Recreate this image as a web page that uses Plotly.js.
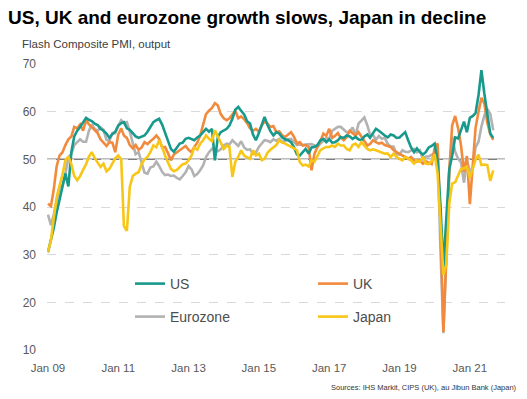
<!DOCTYPE html>
<html>
<head>
<meta charset="utf-8">
<script src="https://cdn.plot.ly/plotly-3.0.1.min.js"></script>
<style>html,body{margin:0;padding:0;background:#fff;}#chart{width:527px;height:399px;}</style>
</head>
<body>
<div id="chart"></div>
<script>
// Monthly flash composite PMI output, Jan 2009 - Sep 2021
var startYear = 2009;
var seriesNames = ["US", "UK", "Eurozone", "Japan"];
var yTickVals = [10, 20, 30, 40, 50, 60, 70];
var xTickLabels = ["Jan 09", "Jan 11", "Jan 13", "Jan 15", "Jan 17", "Jan 19", "Jan 21"];

var us = [
  30.5, 33.0, 35.5, 38.8, 41.5, 44.5, 47.0, 44.3, 51.5, 54.8, 56.0, 56.8,
  57.8, 58.7, 58.3, 58.0, 57.5, 57.2, 56.4, 56.0, 55.4, 54.5, 55.3, 55.8,
  57.1, 57.6, 57.8, 56.5, 56.2, 55.4, 54.8, 54.5, 54.7, 55.0, 55.8, 56.8,
  57.8, 58.2, 58.5, 57.3, 55.7, 54.0, 52.2, 51.6, 52.6, 53.3, 53.5, 54.3,
  54.5, 54.2, 54.0, 54.6, 55.0, 55.7, 56.4, 55.8, 56.4, 49.8, 54.7, 55.7,
  56.1, 56.4, 57.1, 58.5, 60.4, 61.0, 60.2, 59.4, 58.0, 57.5, 55.2, 54.0,
  55.5, 57.3, 58.9, 57.2, 55.9, 55.0, 55.7, 55.4, 54.6, 54.2, 54.0, 53.6,
  52.5, 51.0, 50.8, 51.5, 52.2, 51.2, 52.5, 52.6, 53.0, 54.0, 54.3, 53.6,
  54.2, 53.5, 53.6, 54.0, 54.7, 54.5, 55.0, 54.8, 54.3, 54.7, 54.2, 54.0,
  54.8, 55.2, 54.5, 55.5, 56.4, 56.0, 55.4, 55.0, 54.6, 55.2, 55.0, 54.5,
  54.6, 55.3, 55.7, 54.0, 52.5, 51.5, 52.3, 51.5, 51.0, 51.5, 52.5, 52.8,
  53.3, 49.6, 40.5, 27.4, 37.0, 47.9, 50.7, 54.6, 54.4, 56.3, 57.9, 55.7,
  58.7, 59.1, 59.7, 63.5, 68.7, 63.7, 59.7, 55.4, 54.5
];
var uk = [
  40.7, 40.2, 43.5, 48.5, 50.8, 51.5, 53.0, 54.2, 54.8, 56.8, 56.5, 57.3,
  56.0, 58.2, 57.4, 56.8, 56.0, 55.5, 54.2, 53.4, 52.8, 53.6, 53.5, 51.5,
  55.2, 56.5, 55.0, 54.5, 53.0, 52.3, 53.0, 52.0, 52.5, 53.6, 53.2, 53.8,
  54.3, 55.0, 54.3, 52.5, 52.6, 51.3, 49.8, 51.0, 51.5, 51.8, 52.3, 52.8,
  52.0, 51.5, 52.6, 53.5, 55.0, 57.2, 59.5, 60.2, 60.8, 61.8, 61.3, 59.5,
  58.6, 58.2, 58.6, 59.4, 60.2, 58.6, 59.0, 58.4, 57.6, 56.5, 56.0, 56.4,
  55.8, 57.1, 58.0, 57.5, 56.8, 57.0, 55.7, 55.9, 55.0, 54.7, 55.2, 55.7,
  54.7, 53.3, 53.6, 52.9, 53.0, 52.6, 47.7, 51.2, 52.6, 53.8, 55.4, 54.9,
  56.4, 54.5, 54.9, 55.5, 54.5, 54.0, 54.7, 56.0, 55.5, 55.0, 55.7, 54.8,
  54.0, 52.9, 53.2, 54.0, 53.6, 53.3, 53.5, 53.0, 52.8, 52.6, 51.9, 51.5,
  51.2, 50.8, 50.5, 50.1, 50.5, 49.8, 49.5, 49.8, 49.1, 49.6, 49.3, 49.0,
  52.4, 53.3, 37.1, 13.8, 28.9, 47.6, 57.1, 59.1, 56.5, 52.9, 47.4, 50.7,
  40.6, 49.8, 56.6, 60.0, 62.9, 61.7, 57.7, 55.3, 54.1
];
var eurozone = [
  38.4, 36.2, 38.3, 41.1, 44.0, 44.6, 47.0, 50.4, 51.1, 53.0, 53.7, 54.2,
  53.7, 53.7, 55.9, 57.3, 56.4, 56.0, 56.7, 56.2, 54.1, 53.8, 55.5, 55.5,
  57.0, 58.2, 57.6, 57.8, 55.8, 53.3, 51.1, 51.5, 49.1, 47.2, 47.0, 48.3,
  48.5, 49.5, 48.6, 47.4, 46.7, 46.8, 46.5, 46.6, 46.1, 45.8, 46.5, 47.3,
  48.6, 47.9, 46.5, 46.9, 47.7, 48.7, 50.5, 51.5, 52.2, 51.9, 51.7, 52.1,
  52.9, 53.3, 53.1, 54.0, 53.5, 52.8, 53.8, 52.5, 52.0, 52.1, 51.1, 51.4,
  52.6, 53.3, 54.0, 53.9, 53.6, 54.2, 53.9, 54.3, 53.6, 53.9, 54.2, 54.3,
  53.6, 53.0, 53.1, 53.0, 53.1, 53.1, 53.2, 52.9, 52.6, 53.3, 53.9, 54.4,
  54.4, 56.0, 56.4, 56.8, 56.8, 56.3, 55.7, 55.7, 56.7, 55.0, 57.5, 58.1,
  58.8, 57.1, 55.2, 55.1, 54.1, 54.9, 54.3, 54.5, 53.2, 52.7, 52.7, 51.1,
  51.0, 51.9, 51.6, 51.5, 51.8, 52.2, 51.5, 51.9, 50.1, 50.6, 50.6, 50.9,
  51.3, 51.6, 31.4, 13.5, 30.5, 47.5, 54.8, 51.6, 50.1, 49.4, 45.1, 49.8,
  47.5, 48.1, 52.5, 53.7, 56.9, 59.2, 60.6, 59.5, 56.1
];
var japan = [
  30.5, 33.0, 37.5, 42.0, 44.5, 46.8, 49.8, 50.6, 49.0, 46.5, 45.6, 46.5,
  47.8, 49.0, 50.5, 51.5, 50.3, 49.2, 48.4, 49.1, 47.5, 48.0, 49.2, 50.2,
  50.8, 50.0, 36.0, 35.0, 44.2, 46.5, 47.0, 47.3, 49.0, 50.0, 50.5, 51.5,
  52.9, 52.5, 54.0, 52.6, 50.8, 49.5, 48.0, 47.5, 47.8, 48.4, 49.0, 49.1,
  49.8, 50.8, 52.5, 52.0, 53.3, 54.0, 55.0, 54.3, 53.8, 56.1, 54.7, 53.5,
  52.2, 52.9, 52.6, 46.3, 49.5, 50.5, 51.9, 50.8, 50.4, 50.1, 51.9, 50.8,
  51.2, 49.8, 50.1, 51.4, 52.0, 52.6, 53.0, 54.0, 53.5, 53.3, 53.0, 52.6,
  52.3, 51.9, 49.4, 48.7, 48.9, 48.5, 49.8, 49.5, 50.8, 51.9, 52.3, 52.6,
  52.6, 52.9, 52.6, 53.3, 52.9, 52.9, 52.2, 51.9, 53.0, 53.3, 52.6, 53.6,
  52.9, 52.2, 51.9, 52.1, 51.9, 51.7, 51.5, 51.2, 51.2, 50.5, 51.2, 50.5,
  50.1, 49.8, 50.5, 50.1, 49.8, 49.1, 49.8, 49.5, 50.5, 49.1, 49.0, 49.6,
  51.1, 47.0, 35.8, 25.8, 27.8, 40.8, 44.9, 45.2, 46.6, 48.0, 48.1, 48.5,
  46.1, 48.2, 49.9, 51.0, 48.8, 48.9, 48.8, 45.5, 47.7
];

// month dates for the category axis
var months = [];
for (var i = 0; i < us.length; i++) {
  var y = startYear + Math.floor(i / 12);
  var m = (i % 12) + 1;
  months.push(y + "-" + (m < 10 ? "0" + m : m) + "-01");
}
var xTickVals = [];
for (var k = 0; k < xTickLabels.length; k++) {
  xTickVals.push((startYear + 2 * k) + "-01-01");
}

var colors = {US: "#17998b", UK: "#f28a3d", Eurozone: "#b2b2b2", Japan: "#f7c617"};
var FONT = "Liberation Sans, Arial, sans-serif";

function trace(name, vals, legend, rank) {
  return {
    type: "scatter", mode: "lines", name: name, x: months, y: vals,
    line: {color: colors[name], width: 2.6},
    legend: legend, legendrank: rank, hoverinfo: "skip"
  };
}
var data = [
  trace("Eurozone", eurozone, "legend2", 1),
  trace("UK", uk, "legend", 2),
  trace("US", us, "legend", 1),
  trace("Japan", japan, "legend2", 2)
];

var legendCommon = {
  orientation: "h", xanchor: "left", yanchor: "middle",
  entrywidth: 138, entrywidthmode: "pixels",
  bgcolor: "rgba(0,0,0,0)", borderwidth: 0,
  font: {family: FONT, size: 14, color: "#4d4d4d"},
  itemclick: false, itemdoubleclick: false, traceorder: "normal"
};

var layout = {
  width: 527, height: 399,
  margin: {l: 47, r: 22, t: 64, b: 49},
  paper_bgcolor: "#ffffff", plot_bgcolor: "#ffffff",
  font: {family: FONT, color: "#595959"},
  showlegend: true,
  legend: Object.assign({}, legendCommon, {x: (130 - 47) / 458, y: (350 - 284) / 286}),
  legend2: Object.assign({}, legendCommon, {x: (130 - 47) / 458, y: (350 - 317) / 286}),
  title: {
    text: "<b>US, UK and eurozone growth slows, Japan in decline</b>",
    font: {family: FONT, size: 19, color: "#000000"},
    x: 8 / 527, xanchor: "left", xref: "container",
    y: 1 - 17 / 399, yanchor: "middle", yref: "container"
  },
  xaxis: {
    type: "date", range: ["2008-12-22", "2022-01-01"],
    tickvals: xTickVals, ticktext: xTickLabels,
    showgrid: false, zeroline: false, showline: false, ticks: "",
    ticklabelstandoff: 9,
    tickfont: {family: FONT, size: 11.5, color: "#595959"},
    fixedrange: true
  },
  yaxis: {
    range: [10, 70], tickvals: yTickVals,
    showgrid: true, gridcolor: "#d9d9d9", gridwidth: 1, griddash: "dash",
    zeroline: false, showline: false, ticks: "",
    ticklabelstandoff: 10,
    tickfont: {family: FONT, size: 12, color: "#595959"},
    fixedrange: true
  },
  shapes: [{
    type: "line", xref: "x domain", x0: 0, x1: 1, yref: "y", y0: 50, y1: 50,
    line: {color: "#7f7f7f", width: 1.5}, layer: "below"
  }],
  annotations: [
    {text: "Flash Composite PMI, output", xref: "paper", yref: "paper",
     x: (20 - 47) / 458, y: (350 - 44) / 286, xanchor: "left", yanchor: "middle",
     showarrow: false, font: {family: FONT, size: 11.5, color: "#404040"}},
    {text: "Sources: IHS Markit, CIPS (UK), au Jibun Bank (Japan)", xref: "paper", yref: "paper",
     x: (519 - 47) / 458, y: (350 - 387) / 286, xanchor: "right", yanchor: "middle",
     showarrow: false, font: {family: FONT, size: 7.5, color: "#333333"}}
  ]
};

Plotly.newPlot("chart", data, layout, {displayModeBar: false, staticPlot: true});
</script>
</body>
</html>
